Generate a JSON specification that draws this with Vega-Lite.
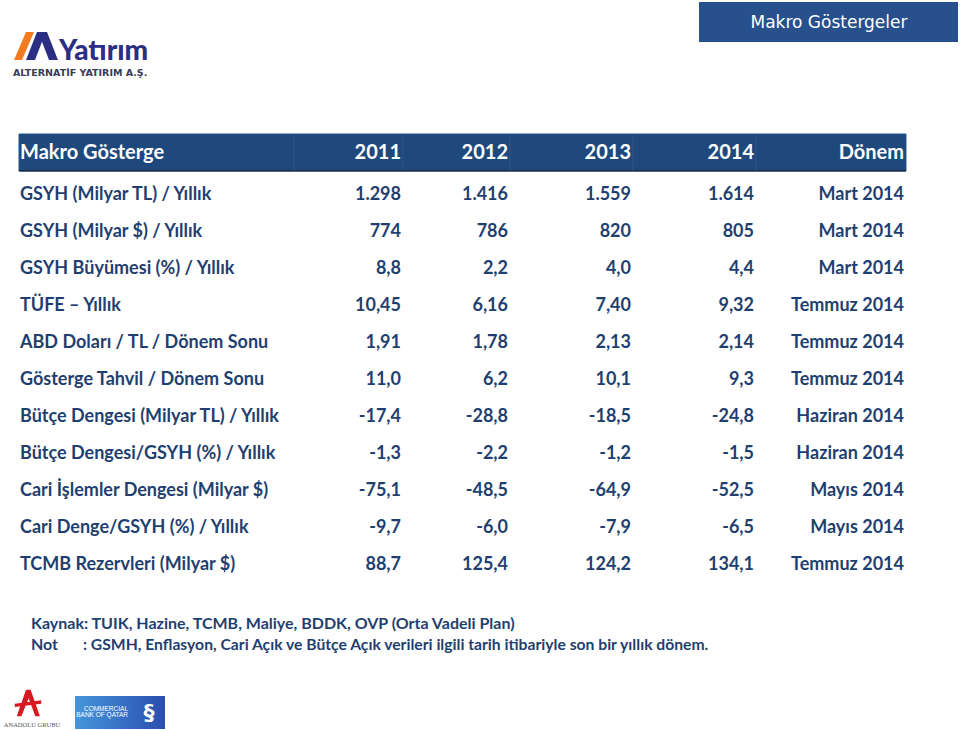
{
  "$schema": "https://vega.github.io/schema/vega-lite/v6.json",
  "padding": 0,
  "spacing": 0,
  "bounds": "full",
  "background": "white",
  "config": {"view": {"stroke": null}, "text": {"font": "Lato"}},
  "datasets": {
    "macro": [
      {"Makro Gösterge": "GSYH (Milyar TL) / Yıllık", "2011": "1.298", "2012": "1.416", "2013": "1.559", "2014": "1.614", "Dönem": "Mart 2014"},
      {"Makro Gösterge": "GSYH (Milyar $) / Yıllık", "2011": "774", "2012": "786", "2013": "820", "2014": "805", "Dönem": "Mart 2014"},
      {"Makro Gösterge": "GSYH Büyümesi (%) / Yıllık", "2011": "8,8", "2012": "2,2", "2013": "4,0", "2014": "4,4", "Dönem": "Mart 2014"},
      {"Makro Gösterge": "TÜFE – Yıllık", "2011": "10,45", "2012": "6,16", "2013": "7,40", "2014": "9,32", "Dönem": "Temmuz 2014"},
      {"Makro Gösterge": "ABD Doları / TL / Dönem Sonu", "2011": "1,91", "2012": "1,78", "2013": "2,13", "2014": "2,14", "Dönem": "Temmuz 2014"},
      {"Makro Gösterge": "Gösterge Tahvil / Dönem Sonu", "2011": "11,0", "2012": "6,2", "2013": "10,1", "2014": "9,3", "Dönem": "Temmuz 2014"},
      {"Makro Gösterge": "Bütçe Dengesi (Milyar TL) / Yıllık", "2011": "-17,4", "2012": "-28,8", "2013": "-18,5", "2014": "-24,8", "Dönem": "Haziran 2014"},
      {"Makro Gösterge": "Bütçe Dengesi/GSYH (%) / Yıllık", "2011": "-1,3", "2012": "-2,2", "2013": "-1,2", "2014": "-1,5", "Dönem": "Haziran 2014"},
      {"Makro Gösterge": "Cari İşlemler Dengesi (Milyar $)", "2011": "-75,1", "2012": "-48,5", "2013": "-64,9", "2014": "-52,5", "Dönem": "Mayıs 2014"},
      {"Makro Gösterge": "Cari Denge/GSYH (%) / Yıllık", "2011": "-9,7", "2012": "-6,0", "2013": "-7,9", "2014": "-6,5", "Dönem": "Mayıs 2014"},
      {"Makro Gösterge": "TCMB Rezervleri (Milyar $)", "2011": "88,7", "2012": "125,4", "2013": "124,2", "2014": "134,1", "Dönem": "Temmuz 2014"}
    ]
  },
  "vconcat": [
    {
      "width": 960,
      "height": 133,
      "data": {"values": [{"title": "Makro Göstergeler", "brand": "Yatırım", "sub": "ALTERNATİF YATIRIM A.Ş."}]},
      "layer": [
        {"mark": {"type": "rect", "fill": "#27508C", "x": 698, "x2": 957, "y": 2, "y2": 42}, "encoding": {}},
        {"mark": {"type": "text", "x": 828, "y": 23, "align": "center", "baseline": "middle", "fontSize": 17, "font": "DejaVu Sans", "color": "white"}, "encoding": {"text": {"field": "title"}}},
        {"mark": {"type": "point", "x": 23, "y": 46, "size": 784, "filled": true, "opacity": 1, "color": "#F47A20", "shape": "M -0.71 1 L -0.14 1 L 0.71 -1 L 0.14 -1 Z"}, "encoding": {}},
        {"mark": {"type": "point", "x": 41, "y": 46, "size": 784, "filled": true, "opacity": 1, "color": "#2B2F84", "shape": "M -1.14 1 L -0.36 -1 L 0.36 -1 L 1.14 1 L 0.5 1 L 0 -0.3 L -0.5 1 Z"}, "encoding": {}},
        {"mark": {"type": "text", "x": 58, "y": 60, "align": "left", "baseline": "alphabetic", "fontSize": 28, "fontWeight": 900, "color": "#2B2F84"}, "encoding": {"text": {"field": "brand"}}},
        {"mark": {"type": "text", "x": 12, "y": 73, "align": "left", "baseline": "middle", "fontSize": 9.5, "fontWeight": "bold", "font": "DejaVu Sans", "color": "#3A3A5C"}, "encoding": {"text": {"field": "sub"}}}
      ]
    },
    {
      "spacing": 0,
      "bounds": "flush",
      "hconcat": [
        {
          "width": 293, "height": 451,
          "data": {"name": "macro"},
          "resolve": {"scale": {"y": "independent"}},
          "layer": [
            {"transform": [{"aggregate": [{"op": "count", "as": "n"}]}],
             "mark": {"type": "rect", "fill": "#1F497D", "stroke": "#29528A", "strokeWidth": 1},
             "encoding": {
               "x": {"datum": "Makro Gösterge", "type": "nominal", "scale": {"type": "band", "range": [18, 293], "paddingInner": 0, "paddingOuter": 0}, "axis": null},
               "y": {"datum": "Makro Gösterge", "type": "nominal", "scale": {"type": "band", "domain": ["Makro Gösterge"], "range": [0, 37], "paddingInner": 0, "paddingOuter": 0}, "axis": null}
             }},
            {"transform": [{"aggregate": [{"op": "count", "as": "n"}]}],
             "mark": {"type": "rect", "fill": "#1A2B48"},
             "encoding": {
               "x": {"datum": "Makro Gösterge", "type": "nominal", "axis": null},
               "y": {"datum": "Makro Gösterge", "type": "nominal", "scale": {"type": "band", "domain": ["Makro Gösterge"], "range": [36, 37.6], "paddingInner": 0, "paddingOuter": 0}, "axis": null}
             }},
            {"transform": [{"aggregate": [{"op": "count", "as": "n"}]}],
             "mark": {"type": "text", "align": "left", "baseline": "middle", "dx": 1, "fontSize": 20, "fontWeight": "bold", "color": "white", "text": "Makro Gösterge"},
             "encoding": {
               "x": {"datum": "Makro Gösterge", "type": "nominal", "bandPosition": 0, "axis": null},
               "y": {"datum": "Makro Gösterge", "type": "nominal", "scale": {"type": "band", "domain": ["Makro Gösterge"], "range": [0, 37], "paddingInner": 0, "paddingOuter": 0}, "axis": null}
             }},
            {"mark": {"type": "text", "align": "left", "baseline": "middle", "dx": 1, "fontSize": 18, "fontWeight": "bold", "color": "#1F3F70"},
             "encoding": {
               "x": {"datum": "Makro Gösterge", "type": "nominal", "bandPosition": 0, "axis": null},
               "y": {"field": "Makro Gösterge", "type": "nominal", "sort": null, "scale": {"type": "band", "range": [42, 449], "paddingInner": 0, "paddingOuter": 0}, "axis": null},
               "text": {"field": "Makro Gösterge"}
             }}
          ]
        },
        {
          "width": 109, "height": 451,
          "data": {"name": "macro"},
          "transform": [{"fold": ["2011"], "as": ["col", "val"]}],
          "resolve": {"scale": {"y": "independent"}},
          "layer": [
            {"transform": [{"aggregate": [{"op": "count", "as": "n"}], "groupby": ["col"]}],
             "mark": {"type": "rect", "fill": "#1F497D", "stroke": "#29528A", "strokeWidth": 1},
             "encoding": {
               "x": {"field": "col", "type": "nominal", "scale": {"type": "band", "paddingInner": 0, "paddingOuter": 0}, "axis": null},
               "y": {"datum": "Makro Gösterge", "type": "nominal", "scale": {"type": "band", "domain": ["Makro Gösterge"], "range": [0, 37], "paddingInner": 0, "paddingOuter": 0}, "axis": null}
             }},
            {"transform": [{"aggregate": [{"op": "count", "as": "n"}], "groupby": ["col"]}],
             "mark": {"type": "rect", "fill": "#1A2B48"},
             "encoding": {
               "x": {"field": "col", "type": "nominal", "axis": null},
               "y": {"datum": "Makro Gösterge", "type": "nominal", "scale": {"type": "band", "domain": ["Makro Gösterge"], "range": [36, 37.6], "paddingInner": 0, "paddingOuter": 0}, "axis": null}
             }},
            {"transform": [{"aggregate": [{"op": "count", "as": "n"}], "groupby": ["col"]}],
             "mark": {"type": "text", "align": "right", "baseline": "middle", "dx": -2, "fontSize": 20, "fontWeight": "bold", "color": "white"},
             "encoding": {
               "x": {"field": "col", "type": "nominal", "bandPosition": 1, "axis": null},
               "y": {"datum": "Makro Gösterge", "type": "nominal", "scale": {"type": "band", "domain": ["Makro Gösterge"], "range": [0, 37], "paddingInner": 0, "paddingOuter": 0}, "axis": null},
               "text": {"field": "col"}
             }},
            {"mark": {"type": "text", "align": "right", "baseline": "middle", "dx": -2, "fontSize": 18, "fontWeight": "bold", "color": "#1F3F70"},
             "encoding": {
               "x": {"field": "col", "type": "nominal", "bandPosition": 1, "axis": null},
               "y": {"field": "Makro Gösterge", "type": "nominal", "sort": null, "scale": {"type": "band", "range": [42, 449], "paddingInner": 0, "paddingOuter": 0}, "axis": null},
               "text": {"field": "val"}
             }}
          ]
        },
        {
          "width": 107, "height": 451,
          "data": {"name": "macro"},
          "transform": [{"fold": ["2012"], "as": ["col", "val"]}],
          "resolve": {"scale": {"y": "independent"}},
          "layer": [
            {"transform": [{"aggregate": [{"op": "count", "as": "n"}], "groupby": ["col"]}],
             "mark": {"type": "rect", "fill": "#1F497D", "stroke": "#29528A", "strokeWidth": 1},
             "encoding": {
               "x": {"field": "col", "type": "nominal", "scale": {"type": "band", "paddingInner": 0, "paddingOuter": 0}, "axis": null},
               "y": {"datum": "Makro Gösterge", "type": "nominal", "scale": {"type": "band", "domain": ["Makro Gösterge"], "range": [0, 37], "paddingInner": 0, "paddingOuter": 0}, "axis": null}
             }},
            {"transform": [{"aggregate": [{"op": "count", "as": "n"}], "groupby": ["col"]}],
             "mark": {"type": "rect", "fill": "#1A2B48"},
             "encoding": {
               "x": {"field": "col", "type": "nominal", "axis": null},
               "y": {"datum": "Makro Gösterge", "type": "nominal", "scale": {"type": "band", "domain": ["Makro Gösterge"], "range": [36, 37.6], "paddingInner": 0, "paddingOuter": 0}, "axis": null}
             }},
            {"transform": [{"aggregate": [{"op": "count", "as": "n"}], "groupby": ["col"]}],
             "mark": {"type": "text", "align": "right", "baseline": "middle", "dx": -2, "fontSize": 20, "fontWeight": "bold", "color": "white"},
             "encoding": {
               "x": {"field": "col", "type": "nominal", "bandPosition": 1, "axis": null},
               "y": {"datum": "Makro Gösterge", "type": "nominal", "scale": {"type": "band", "domain": ["Makro Gösterge"], "range": [0, 37], "paddingInner": 0, "paddingOuter": 0}, "axis": null},
               "text": {"field": "col"}
             }},
            {"mark": {"type": "text", "align": "right", "baseline": "middle", "dx": -2, "fontSize": 18, "fontWeight": "bold", "color": "#1F3F70"},
             "encoding": {
               "x": {"field": "col", "type": "nominal", "bandPosition": 1, "axis": null},
               "y": {"field": "Makro Gösterge", "type": "nominal", "sort": null, "scale": {"type": "band", "range": [42, 449], "paddingInner": 0, "paddingOuter": 0}, "axis": null},
               "text": {"field": "val"}
             }}
          ]
        },
        {
          "width": 123, "height": 451,
          "data": {"name": "macro"},
          "transform": [{"fold": ["2013"], "as": ["col", "val"]}],
          "resolve": {"scale": {"y": "independent"}},
          "layer": [
            {"transform": [{"aggregate": [{"op": "count", "as": "n"}], "groupby": ["col"]}],
             "mark": {"type": "rect", "fill": "#1F497D", "stroke": "#29528A", "strokeWidth": 1},
             "encoding": {
               "x": {"field": "col", "type": "nominal", "scale": {"type": "band", "paddingInner": 0, "paddingOuter": 0}, "axis": null},
               "y": {"datum": "Makro Gösterge", "type": "nominal", "scale": {"type": "band", "domain": ["Makro Gösterge"], "range": [0, 37], "paddingInner": 0, "paddingOuter": 0}, "axis": null}
             }},
            {"transform": [{"aggregate": [{"op": "count", "as": "n"}], "groupby": ["col"]}],
             "mark": {"type": "rect", "fill": "#1A2B48"},
             "encoding": {
               "x": {"field": "col", "type": "nominal", "axis": null},
               "y": {"datum": "Makro Gösterge", "type": "nominal", "scale": {"type": "band", "domain": ["Makro Gösterge"], "range": [36, 37.6], "paddingInner": 0, "paddingOuter": 0}, "axis": null}
             }},
            {"transform": [{"aggregate": [{"op": "count", "as": "n"}], "groupby": ["col"]}],
             "mark": {"type": "text", "align": "right", "baseline": "middle", "dx": -2, "fontSize": 20, "fontWeight": "bold", "color": "white"},
             "encoding": {
               "x": {"field": "col", "type": "nominal", "bandPosition": 1, "axis": null},
               "y": {"datum": "Makro Gösterge", "type": "nominal", "scale": {"type": "band", "domain": ["Makro Gösterge"], "range": [0, 37], "paddingInner": 0, "paddingOuter": 0}, "axis": null},
               "text": {"field": "col"}
             }},
            {"mark": {"type": "text", "align": "right", "baseline": "middle", "dx": -2, "fontSize": 18, "fontWeight": "bold", "color": "#1F3F70"},
             "encoding": {
               "x": {"field": "col", "type": "nominal", "bandPosition": 1, "axis": null},
               "y": {"field": "Makro Gösterge", "type": "nominal", "sort": null, "scale": {"type": "band", "range": [42, 449], "paddingInner": 0, "paddingOuter": 0}, "axis": null},
               "text": {"field": "val"}
             }}
          ]
        },
        {
          "width": 123, "height": 451,
          "data": {"name": "macro"},
          "transform": [{"fold": ["2014"], "as": ["col", "val"]}],
          "resolve": {"scale": {"y": "independent"}},
          "layer": [
            {"transform": [{"aggregate": [{"op": "count", "as": "n"}], "groupby": ["col"]}],
             "mark": {"type": "rect", "fill": "#1F497D", "stroke": "#29528A", "strokeWidth": 1},
             "encoding": {
               "x": {"field": "col", "type": "nominal", "scale": {"type": "band", "paddingInner": 0, "paddingOuter": 0}, "axis": null},
               "y": {"datum": "Makro Gösterge", "type": "nominal", "scale": {"type": "band", "domain": ["Makro Gösterge"], "range": [0, 37], "paddingInner": 0, "paddingOuter": 0}, "axis": null}
             }},
            {"transform": [{"aggregate": [{"op": "count", "as": "n"}], "groupby": ["col"]}],
             "mark": {"type": "rect", "fill": "#1A2B48"},
             "encoding": {
               "x": {"field": "col", "type": "nominal", "axis": null},
               "y": {"datum": "Makro Gösterge", "type": "nominal", "scale": {"type": "band", "domain": ["Makro Gösterge"], "range": [36, 37.6], "paddingInner": 0, "paddingOuter": 0}, "axis": null}
             }},
            {"transform": [{"aggregate": [{"op": "count", "as": "n"}], "groupby": ["col"]}],
             "mark": {"type": "text", "align": "right", "baseline": "middle", "dx": -2, "fontSize": 20, "fontWeight": "bold", "color": "white"},
             "encoding": {
               "x": {"field": "col", "type": "nominal", "bandPosition": 1, "axis": null},
               "y": {"datum": "Makro Gösterge", "type": "nominal", "scale": {"type": "band", "domain": ["Makro Gösterge"], "range": [0, 37], "paddingInner": 0, "paddingOuter": 0}, "axis": null},
               "text": {"field": "col"}
             }},
            {"mark": {"type": "text", "align": "right", "baseline": "middle", "dx": -2, "fontSize": 18, "fontWeight": "bold", "color": "#1F3F70"},
             "encoding": {
               "x": {"field": "col", "type": "nominal", "bandPosition": 1, "axis": null},
               "y": {"field": "Makro Gösterge", "type": "nominal", "sort": null, "scale": {"type": "band", "range": [42, 449], "paddingInner": 0, "paddingOuter": 0}, "axis": null},
               "text": {"field": "val"}
             }}
          ]
        },
        {
          "width": 150, "height": 451,
          "data": {"name": "macro"},
          "transform": [{"fold": ["Dönem"], "as": ["col", "val"]}],
          "resolve": {"scale": {"y": "independent"}},
          "layer": [
            {"transform": [{"aggregate": [{"op": "count", "as": "n"}], "groupby": ["col"]}],
             "mark": {"type": "rect", "fill": "#1F497D", "stroke": "#29528A", "strokeWidth": 1},
             "encoding": {
               "x": {"field": "col", "type": "nominal", "scale": {"type": "band", "paddingInner": 0, "paddingOuter": 0}, "axis": null},
               "y": {"datum": "Makro Gösterge", "type": "nominal", "scale": {"type": "band", "domain": ["Makro Gösterge"], "range": [0, 37], "paddingInner": 0, "paddingOuter": 0}, "axis": null}
             }},
            {"transform": [{"aggregate": [{"op": "count", "as": "n"}], "groupby": ["col"]}],
             "mark": {"type": "rect", "fill": "#1A2B48"},
             "encoding": {
               "x": {"field": "col", "type": "nominal", "axis": null},
               "y": {"datum": "Makro Gösterge", "type": "nominal", "scale": {"type": "band", "domain": ["Makro Gösterge"], "range": [36, 37.6], "paddingInner": 0, "paddingOuter": 0}, "axis": null}
             }},
            {"transform": [{"aggregate": [{"op": "count", "as": "n"}], "groupby": ["col"]}],
             "mark": {"type": "text", "align": "right", "baseline": "middle", "dx": -2, "fontSize": 20, "fontWeight": "bold", "color": "white"},
             "encoding": {
               "x": {"field": "col", "type": "nominal", "bandPosition": 1, "axis": null},
               "y": {"datum": "Makro Gösterge", "type": "nominal", "scale": {"type": "band", "domain": ["Makro Gösterge"], "range": [0, 37], "paddingInner": 0, "paddingOuter": 0}, "axis": null},
               "text": {"field": "col"}
             }},
            {"mark": {"type": "text", "align": "right", "baseline": "middle", "dx": -2, "fontSize": 18, "fontWeight": "bold", "color": "#1F3F70"},
             "encoding": {
               "x": {"field": "col", "type": "nominal", "bandPosition": 1, "axis": null},
               "y": {"field": "Makro Gösterge", "type": "nominal", "sort": null, "scale": {"type": "band", "range": [42, 449], "paddingInner": 0, "paddingOuter": 0}, "axis": null},
               "text": {"field": "val"}
             }}
          ]
        }
      ]
    },
    {
      "width": 960,
      "height": 146,
      "data": {"values": [{"source": "Kaynak: TUIK, Hazine, TCMB, Maliye, BDDK, OVP (Orta Vadeli Plan)", "note": "Not", "noteText": ": GSMH, Enflasyon, Cari Açık ve Bütçe Açık verileri ilgili tarih itibariyle son bir yıllık dönem.", "group": "ANADOLU GRUBU", "bank1": "COMMERCIAL", "bank2": "BANK OF QATAR"}]},
      "layer": [
        {"mark": {"type": "text", "x": 30, "y": 38, "align": "left", "baseline": "middle", "fontSize": 16, "fontWeight": "bold", "color": "#1F3F70"}, "encoding": {"text": {"field": "source"}}},
        {"mark": {"type": "text", "x": 30, "y": 59, "align": "left", "baseline": "middle", "fontSize": 16, "fontWeight": "bold", "color": "#1F3F70"}, "encoding": {"text": {"field": "note"}}},
        {"mark": {"type": "text", "x": 82, "y": 59, "align": "left", "baseline": "middle", "fontSize": 15.7, "fontWeight": "bold", "color": "#1F3F70"}, "encoding": {"text": {"field": "noteText"}}},
        {"mark": {"type": "point", "x": 27, "y": 117, "size": 700, "filled": true, "opacity": 1, "color": "#D71920", "shape": "M -0.15 -1 L 0.2 -1 L 0.9 1 L 0.55 1 L 0.05 -0.35 L -0.5 1 L -0.85 1 Z M -1 0.05 L 1 -0.2 L 1 0.05 L -1 0.3 Z"}, "encoding": {}},
        {"mark": {"type": "text", "x": 31, "y": 139, "align": "center", "baseline": "middle", "fontSize": 6.5, "font": "Liberation Serif", "color": "#555555"}, "encoding": {"text": {"field": "group"}}},
        {"mark": {"type": "rect", "x": 74, "x2": 164, "y": 110, "y2": 143, "fill": {"gradient": "linear", "x1": 0, "y1": 0, "x2": 1, "y2": 0, "stops": [{"offset": 0, "color": "#4596DC"}, {"offset": 1, "color": "#2A4DAE"}]}}, "encoding": {}},
        {"mark": {"type": "text", "x": 127, "y": 123, "align": "right", "baseline": "middle", "fontSize": 6.5, "font": "Liberation Sans", "color": "white"}, "encoding": {"text": {"field": "bank1"}}},
        {"mark": {"type": "text", "x": 127, "y": 129, "align": "right", "baseline": "middle", "fontSize": 6.5, "font": "Liberation Sans", "color": "white"}, "encoding": {"text": {"field": "bank2"}}},
        {"mark": {"type": "rule", "x": 131, "y": 114, "y2": 139, "color": "white", "strokeWidth": 1}, "encoding": {}},
        {"mark": {"type": "text", "x": 148, "y": 127, "align": "center", "baseline": "middle", "fontSize": 22, "fontWeight": "bold", "font": "DejaVu Sans", "color": "white", "text": "§"}, "encoding": {}}
      ]
    }
  ]
}
